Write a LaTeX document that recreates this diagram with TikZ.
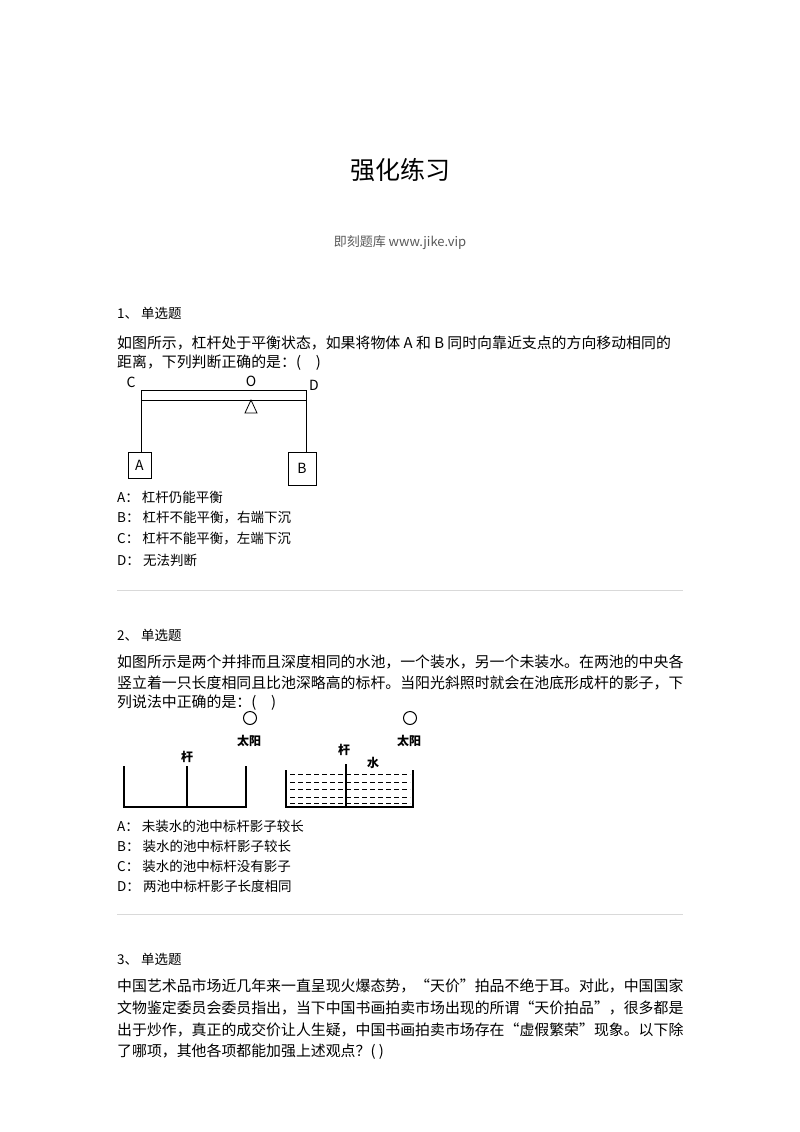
\documentclass[tikz,border=0pt]{standalone}
\usepackage{fontspec}
\setmainfont{Noto Sans CJK SC}
\begin{document}
\begin{tikzpicture}[x=1pt,y=-1pt,
  txt/.style={anchor=west,inner sep=0pt,font=\fontsize{14.9}{16}\selectfont},
  opt/.style={anchor=west,inner sep=0pt,font=\fontsize{13.5}{15}\selectfont},
  hd/.style={anchor=west,inner sep=0pt,font=\fontsize{13.5}{15}\selectfont},
  lbl/.style={inner sep=0pt,font=\fontsize{14}{15}\selectfont\rmfamily\itshape},
  fig/.style={line width=0.8pt},
  sep/.style={draw=black!15,line width=0.8pt}]
\fill[white] (0,0) rectangle (800,1132);
\useasboundingbox (0,0) rectangle (800,1132);
\node[inner sep=0pt,font=\fontsize{25}{28}\selectfont] (title) at (400,170) {强化练习};
\node[inner sep=0pt,text=black!65,font=\fontsize{13}{15}\selectfont] (src) at (400,243) {即刻题库 www.jike.vip};
% Q1
\node[hd] (h1) at (117,313) {1、 单选题};
\node[txt] (q1a) at (117,343) {如图所示，杠杆处于平衡状态，如果将物体 A 和 B 同时向靠近支点的方向移动相同的};
\node[txt] (q1b) at (117,363) {距离，下列判断正确的是：(\quad)};
\node[lbl] (C) at (131,382) {C};
\node[lbl] (O) at (251,381) {O};
\node[lbl] (D) at (314,385) {D};
\draw[fig] (141,390) rectangle (306,400);
\draw[fig] (251,400) -- (245,413) -- (257,413) -- cycle;
\node[draw,fig,minimum width=23pt,minimum height=26pt,inner sep=0pt,lbl] (A) at (139.5,465) {A};
\node[draw,fig,minimum width=28pt,minimum height=33pt,inner sep=0pt,lbl] (B) at (302,468.5) {B};
\draw[fig] (141,400) -- (A.north -| 141,0);
\draw[fig] (306,400) -- (B.north -| 306,0);
\node[opt] (o1a) at (117,497) {A： 杠杆仍能平衡};
\node[opt] (o1b) at (117,518) {B： 杠杆不能平衡，右端下沉};
\node[opt] (o1c) at (117,539) {C： 杠杆不能平衡，左端下沉};
\node[opt] (o1d) at (117,560) {D： 无法判断};
\draw[sep] (117,590) -- (683,590);
% Q2
\node[hd] (h2) at (117,635) {2、 单选题};
\node[txt] (q2a) at (117,662) {如图所示是两个并排而且深度相同的水池，一个装水，另一个未装水。在两池的中央各};
\node[txt] (q2b) at (117,683) {竖立着一只长度相同且比池深略高的标杆。当阳光斜照时就会在池底形成杆的影子，下};
\node[txt] (q2c) at (117,703) {列说法中正确的是：(\quad)};
\draw[fig,line width=1pt] (250,718) circle (6.5);
\draw[fig,line width=1pt] (410,718) circle (6.5);
\node[inner sep=0pt,font=\fontsize{12}{13}\selectfont\bfseries] (s1) at (249,741) {太阳};
\node[inner sep=0pt,font=\fontsize{12}{13}\selectfont\bfseries] (s2) at (409,741) {太阳};
\node[inner sep=0pt,font=\fontsize{12}{13}\selectfont\bfseries] (g1) at (187,757) {杆};
\node[inner sep=0pt,font=\fontsize{12}{13}\selectfont\bfseries] (g2) at (344,750) {杆};
\node[inner sep=0pt,font=\fontsize{12}{13}\selectfont\bfseries] (w) at (373,763) {水};
\draw[fig,line width=1.1pt] (124,766) -- (124,807) -- (246,807) -- (246,766);
\draw[fig,line width=1.1pt] (187,766) -- (187,807);
\draw[fig,line width=1.1pt] (286,770) -- (286,807) -- (413,807) -- (413,770);
\foreach \yy in {774,782,789,797,803}
  \draw[line width=0.8pt,dash pattern=on 5pt off 3pt] (290,\yy) -- (410,\yy);
\draw[fig,line width=1.1pt] (346,764) -- (346,807);
\node[opt] (o2a) at (117,826) {A： 未装水的池中标杆影子较长};
\node[opt] (o2b) at (117,846) {B： 装水的池中标杆影子较长};
\node[opt] (o2c) at (117,866) {C： 装水的池中标杆没有影子};
\node[opt] (o2d) at (117,886) {D： 两池中标杆影子长度相同};
\draw[sep] (117,914) -- (683,914);
% Q3
\node[hd] (h3) at (117,959) {3、 单选题};
\node[txt] (q3a) at (117,986) {中国艺术品市场近几年来一直呈现火爆态势，“天价”拍品不绝于耳。对此，中国国家};
\node[txt] (q3b) at (117,1008) {文物鉴定委员会委员指出，当下中国书画拍卖市场出现的所谓“天价拍品”，很多都是};
\node[txt] (q3c) at (117,1030) {出于炒作，真正的成交价让人生疑，中国书画拍卖市场存在“虚假繁荣”现象。以下除};
\node[txt] (q3d) at (117,1052) {了哪项，其他各项都能加强上述观点？( )};
\end{tikzpicture}
\end{document}
